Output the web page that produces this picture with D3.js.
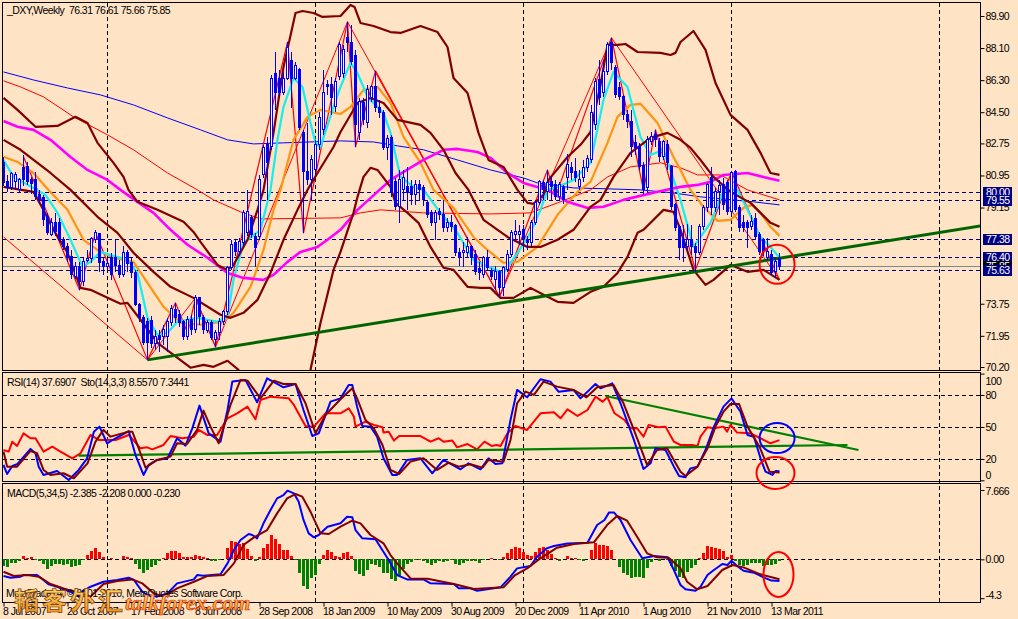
<!DOCTYPE html>
<html>
<head>
<meta charset="utf-8">
<script src="https://d3js.org/d3.v7.min.js"></script>
<style>
  html, body { margin: 0; padding: 0; background: #fee3c5; }
  svg { display: block; }
  text { font-family: "Liberation Sans", sans-serif; font-size: 10.5px; letter-spacing: -0.55px; fill: #000; }
  .tick line { stroke: #000; }
</style>
</head>
<body>
<svg id="chart" width="1018" height="619"></svg>
<script>
// weekly candles, one entry per week starting 8 Jul 2007
const opens = [81.66,80.59,80.25,80.59,80.14,81.38,81.43,80.70,80.70,79.86,
  79.69,78.63,77.62,78.29,78.29,77.34,76.94,76.38,75.26,75.82,
  74.98,76.16,76.27,77.34,77.67,76.10,75.82,76.33,76.33,75.88,
  75.37,76.61,76.05,75.48,73.69,72.96,72.74,72.79,71.50,71.95,
  71.89,71.89,72.68,73.41,73.13,72.74,71.89,72.85,72.29,74.08,
  72.96,72.23,72.68,71.73,72.12,72.74,73.30,75.77,77.17,76.66,
  77.17,77.73,78.57,77.50,77.50,80.98,82.67,82.55,86.70,86.42,
  85.58,86.42,87.43,86.42,86.87,83.34,81.15,80.70,81.26,82.67,
  83.51,86.03,86.03,84.80,86.48,86.70,88.67,88.44,87.71,83.34,
  85.02,83.90,85.30,85.92,84.74,84.46,82.50,83.06,80.59,79.19,
  80.14,80.31,80.31,79.86,80.42,80.25,79.41,78.85,78.29,78.91,
  78.74,78.01,78.29,78.12,76.61,76.61,76.61,76.94,76.49,75.71,
  75.37,76.33,75.60,75.09,75.54,74.64,75.65,76.49,77.62,77.62,
  77.90,77.34,77.17,78.29,79.41,80.53,80.03,80.59,80.42,79.75,
  80.25,80.81,81.38,81.15,80.31,80.81,81.38,81.82,83.79,86.31,
  85.58,86.76,88.39,86.99,85.86,85.36,84.35,83.96,82.78,82.55,
  81.49,80.25,82.83,83.23,82.83,81.99,82.67,81.43,79.30,78.07,
  77.34,76.94,77.34,76.94,76.61,78.07,79.13,80.81,79.13,80.03,
  80.42,80.53,78.91,81.15,79.13,78.29,78.29,78.07,78.51,77.62,
  77.34,76.33,76.49,75.54,76.31];
const highs = [81.99,80.98,81.15,81.15,80.81,82.10,81.71,80.87,81.15,80.14,
  79.86,78.85,78.57,78.85,78.57,77.50,77.17,76.77,76.10,76.10,
  76.33,76.77,77.50,77.90,77.73,76.33,76.33,76.61,77.34,76.21,
  77.00,76.77,76.33,75.65,73.80,73.13,72.96,73.07,72.29,72.29,
  72.57,72.96,73.69,73.80,73.41,72.85,73.07,73.13,74.25,74.14,
  73.13,72.85,72.85,72.29,72.96,73.41,75.88,77.34,77.34,77.45,
  79.02,80.14,78.74,77.73,80.98,82.67,83.11,86.59,87.88,86.87,
  86.76,88.44,87.88,87.32,86.99,83.51,83.90,82.10,82.95,84.52,
  86.87,86.31,86.48,86.42,88.44,88.28,89.57,89.40,88.00,85.30,
  85.30,86.03,86.03,86.82,85.19,84.63,83.23,83.23,80.81,81.26,
  81.26,81.43,80.70,80.70,80.70,80.42,79.58,79.02,79.02,79.13,
  79.58,78.57,78.74,78.23,76.89,77.22,77.50,77.06,76.77,76.10,
  76.44,76.77,75.77,75.88,75.65,75.88,76.77,77.90,78.46,78.18,
  78.18,77.56,78.46,79.58,80.70,80.70,81.26,80.93,80.70,80.59,
  80.42,82.16,81.71,81.94,81.26,81.82,82.10,84.91,86.42,87.43,
  87.43,88.44,88.67,87.15,86.20,85.47,84.63,84.63,83.23,82.78,
  81.71,83.17,83.39,83.51,83.06,82.95,82.95,81.54,79.41,78.18,
  78.18,78.23,78.18,77.17,78.23,79.30,80.53,81.43,80.25,80.70,
  80.81,80.70,81.21,81.26,79.30,78.74,78.46,78.74,78.85,77.78,
  77.45,77.45,76.77,76.33,76.61];
const lows = [80.37,80.03,80.14,80.14,80.03,80.37,80.42,79.92,79.58,79.36,
  78.12,77.62,77.56,77.56,77.22,76.77,76.10,75.15,75.15,74.53,
  74.75,76.10,76.05,77.17,75.54,75.37,75.65,75.09,75.54,75.20,
  75.26,75.54,75.20,73.63,72.74,71.45,70.60,71.28,71.17,71.05,
  71.45,71.05,72.51,72.68,72.46,71.73,71.73,72.01,72.12,72.57,
  72.06,72.12,71.73,71.33,71.73,72.57,73.13,75.65,76.44,76.44,
  77.00,77.56,77.45,75.82,77.34,80.81,79.58,82.39,84.63,85.41,
  85.47,86.31,84.74,86.31,83.51,77.73,80.42,79.58,80.98,82.39,
  83.23,85.47,84.35,84.52,86.31,86.42,87.88,87.15,82.55,82.95,
  83.79,83.62,85.08,84.52,84.18,82.39,81.82,79.75,79.02,78.29,
  79.58,79.02,79.30,79.30,79.58,79.24,78.57,78.12,77.34,78.46,
  77.78,77.78,77.78,76.44,75.88,75.82,76.33,75.93,75.37,75.09,
  75.20,75.65,75.09,74.53,74.14,74.19,75.54,76.38,77.34,77.06,
  76.77,76.77,77.00,78.18,79.30,79.58,79.58,79.58,79.58,79.58,
  79.36,80.14,80.70,80.59,80.14,80.59,81.15,81.66,83.51,84.91,
  85.36,86.59,86.87,85.30,85.19,84.07,83.62,81.99,82.10,81.26,
  79.86,80.03,82.67,82.55,81.71,81.82,81.26,79.02,77.84,76.21,
  76.10,76.77,76.49,75.54,76.49,77.90,78.91,78.74,78.91,78.74,
  79.02,78.74,78.74,78.91,77.78,77.78,76.89,77.90,77.34,76.49,
  76.44,76.21,75.37,75.20,75.66];
const closes = [80.53,80.25,81.04,80.98,80.70,80.70,80.59,80.48,79.75,79.58,
  78.46,77.73,78.29,77.78,77.34,76.94,76.33,75.37,75.82,74.98,
  76.10,76.27,77.39,77.73,76.05,75.82,75.99,75.37,75.88,75.37,
  76.61,75.99,75.48,73.69,72.96,71.56,71.56,71.50,71.89,71.73,
  72.29,72.74,73.47,72.96,72.68,71.89,72.85,72.29,74.08,73.02,
  72.29,72.68,71.84,72.12,72.74,73.30,75.77,77.06,76.66,77.22,
  78.85,78.91,77.62,76.89,80.70,82.50,81.66,86.37,85.58,85.58,
  86.42,88.16,86.42,87.10,83.62,81.15,80.70,81.82,82.67,84.18,
  85.58,85.92,85.30,86.20,88.28,88.00,88.44,87.32,83.79,85.08,
  84.07,85.75,85.92,84.74,84.46,82.50,83.00,79.97,79.19,80.70,
  80.81,79.97,79.86,80.42,80.14,79.58,78.74,78.29,78.85,78.74,
  78.01,78.29,78.07,76.61,76.38,76.72,76.94,76.33,75.54,75.48,
  76.33,75.77,75.26,75.54,74.64,75.77,76.49,77.73,77.78,77.78,
  77.39,77.17,78.29,79.41,80.59,80.14,80.53,80.31,79.75,80.42,
  79.58,81.54,81.09,80.81,80.70,81.38,81.88,84.46,86.20,85.30,
  86.76,88.28,87.27,85.47,85.36,84.35,83.96,82.55,82.50,81.43,
  80.14,82.95,83.11,82.95,81.99,82.83,81.66,79.19,78.01,76.89,
  76.89,77.34,76.94,76.61,78.07,79.13,80.42,79.13,80.03,80.37,
  79.30,78.91,81.09,79.02,78.01,78.01,78.01,78.35,77.50,76.66,
  76.66,76.66,75.48,76.10,75.85];

// indicator lines as [week, value]
const slowBlue = [[0,86.76],[7.5,86.31],[16,85.86],[24.25,85.47],[32.5,84.91],[41,84.18],[49.25,83.51],[56,82.95],[62.5,82.72],[70,82.78],[84.25,82.89],[92.5,82.83],[98.5,82.61],[105,82.39],[113.5,81.82],[121.75,81.26],[130,80.81],[133.5,80.53],[142.5,80.25],[151,80.20],[159.25,80.14],[167.5,79.97],[174.25,79.75],[187.5,79.47],[194,79.30]];
const slowRed = [[0,86.26],[4.25,85.92],[10,85.36],[17.5,84.24],[26,83.23],[32.5,82.39],[41,81.09],[48.5,80.14],[52.5,79.58],[59.25,78.91],[64.25,78.51],[84.25,78.57],[89.25,78.85],[94.25,79.02],[105,78.85],[121.75,78.79],[131.75,78.85],[138.5,79.41],[146.75,80.14],[151,80.87],[156.75,81.43],[164.25,81.66],[169.25,81.38],[173.5,80.98],[179.25,80.98],[186,80.14],[194,79.58]];
const magentaMa = [[0,84.01],[3.5,83.68],[7.5,83.51],[11.75,82.95],[16.75,81.99],[21,81.26],[26,80.70],[29.25,80.14],[33.5,79.47],[37.5,78.85],[41.75,77.90],[46,77.06],[51,76.33],[56,75.48],[60,75.20],[65,75.09],[67.5,75.37],[71,76.10],[74.25,76.66],[78.5,76.94],[81,77.34],[84.25,77.90],[88.5,79.02],[91.25,79.58],[96.75,80.70],[105,81.82],[110,82.39],[113.5,82.44],[118.5,82.27],[121.75,81.94],[126,81.09],[130,80.53],[136,80.14],[141,79.47],[146,79.13],[150,79.19],[155,79.58],[163.5,80.03],[169.25,80.31],[173.5,80.42],[176.75,80.59],[180,80.98],[186,81.09],[191,80.81],[194,80.65]];
const orangeMa = [[0,82.00],[3.5,81.71],[7.5,81.09],[11.25,80.14],[16,79.02],[20,77.34],[23.5,76.77],[27.5,76.33],[32.5,76.10],[36,74.92],[40,73.58],[44.25,72.68],[49.25,72.57],[55,72.74],[57.5,73.24],[61.75,74.70],[65,76.77],[67.5,79.02],[69.25,80.14],[72.5,82.95],[76,84.24],[79.25,84.63],[84.25,84.40],[86.75,84.80],[90,85.75],[93.5,85.92],[96.75,85.02],[100,83.11],[104.25,81.66],[107.5,80.14],[112.5,79.13],[117.5,77.50],[121,76.77],[125,76.05],[128.5,76.10],[133.5,76.94],[138.5,78.74],[143.5,80.03],[146.75,80.59],[151,82.78],[153.5,84.24],[156.75,84.91],[159.25,84.97],[163.5,83.90],[167.5,81.99],[169.25,81.26],[171.75,80.14],[175,79.19],[178.5,78.40],[181.75,78.46],[185,79.13],[187.25,79.30],[189.25,78.85],[191.75,78.07],[194,77.56]];
const cyanMa = [[0,81.82],[2.5,80.87],[10.5,79.86],[13.5,78.85],[16.75,77.34],[19.75,75.82],[21.75,76.10],[24.25,76.66],[26.75,76.49],[31,76.21],[33.5,75.48],[36,72.96],[38.5,72.01],[41,72.12],[43.5,72.74],[48.5,72.96],[53.5,72.74],[56,73.02],[57.5,75.09],[60,77.17],[64.25,77.90],[66.75,80.14],[68.5,82.95],[70,84.80],[72.5,86.42],[74.75,85.92],[76.75,83.90],[78,82.78],[79.25,82.55],[82.5,84.80],[84.25,85.92],[86.75,87.27],[88.5,86.70],[91,85.36],[92.5,85.02],[95,84.46],[96.75,83.34],[99.25,80.87],[102.5,80.31],[105,80.14],[109.25,78.85],[113.5,77.73],[117.5,76.21],[121.75,75.77],[125,75.48],[128.5,76.61],[131.75,77.73],[134.25,79.02],[136,80.14],[138.5,80.31],[142.5,80.70],[146.75,81.66],[150,85.19],[152.5,86.76],[156,85.92],[159.25,83.11],[161.75,82.10],[165,82.39],[169.25,79.58],[172.5,76.94],[176.75,78.29],[180,80.08],[183.5,80.14],[186,79.02],[189.25,77.50],[191.75,76.94],[194,76.33]];
const upperBand = [[0,85.30],[3.5,84.63],[8,83.68],[13.5,83.73],[18,84.24],[21,83.90],[23.5,82.78],[27.5,81.66],[30,80.87],[31.25,80.14],[33.5,79.47],[38.5,79.02],[45,78.35],[47.5,77.78],[49.25,77.22],[53.5,75.93],[56,75.65],[57.5,75.93],[61,77.34],[63.5,79.02],[65,80.14],[67.5,83.34],[70,87.04],[73,90.07],[74.75,90.18],[77.5,90.07],[79.75,89.85],[84.25,89.90],[86.75,90.52],[87.75,90.41],[89.25,89.51],[92.5,89.34],[96.75,89.00],[99.25,88.95],[104.25,89.34],[108.5,89.00],[111,88.16],[112.5,86.42],[116,85.58],[118.75,83.34],[121.25,81.82],[125,81.43],[128.5,80.14],[131,79.41],[132.5,79.36],[135,79.86],[136.25,80.70],[141,81.99],[144.25,82.67],[146.75,83.39],[149.25,86.03],[151,88.28],[153.5,88.28],[155.5,88.33],[158.5,87.88],[164.25,87.83],[166.75,87.71],[168,87.83],[169.25,88.44],[172.5,89.06],[175.5,88.00],[178,86.14],[181.75,84.35],[186,83.51],[189.25,82.22],[191.75,81.09],[194,80.98]];
const midBand = [[0,82.95],[4.25,82.39],[11.75,81.09],[16.75,80.14],[23.5,78.63],[28.5,77.73],[32.5,76.61],[37.5,75.54],[41.75,74.70],[47.5,74.08],[54.25,73.13],[56.75,72.96],[60,73.24],[63.5,73.97],[66.75,75.48],[70,77.34],[73.5,79.02],[76,80.14],[78.5,81.09],[82.5,82.55],[84.25,83.39],[88.5,85.02],[91.75,85.30],[95,85.02],[98.5,84.07],[104.25,83.79],[106.75,83.34],[110,82.39],[113,81.09],[116.25,80.14],[120,78.46],[126,77.50],[131,76.94],[134.25,76.94],[138.5,77.34],[142.5,77.90],[146.75,79.19],[149.25,79.58],[152.5,80.87],[156.75,82.22],[161.75,83.06],[166,83.34],[169.25,82.95],[171.75,82.50],[174.25,81.82],[177.5,80.87],[181.75,80.03],[186.75,79.41],[191.75,78.29],[194,78.07]];
const lowerBand = [[0,80.31],[7.5,80.03],[10,79.02],[12.5,77.90],[16,76.61],[19.25,74.64],[21.75,74.53],[26,74.08],[29.25,73.75],[31,73.80],[34.25,72.85],[38.5,71.56],[42.5,70.88],[46.75,70.16],[50,70.32],[52.5,70.21],[56,70.55],[58.75,70.04],[65,66.00],[72,67.00],[76.75,70.04],[79.25,72.68],[82.5,75.65],[84.25,76.66],[87.5,78.85],[88.5,79.75],[90,80.87],[91.75,81.38],[93.5,81.26],[96.75,80.31],[98,79.41],[101,78.85],[103.75,78.29],[106.75,76.94],[110,75.77],[112.5,75.65],[116,74.70],[119.25,74.64],[121.75,74.64],[124.25,74.08],[127.5,74.08],[131.75,74.64],[135,74.25],[138.5,73.86],[142.5,73.80],[146.75,74.42],[150,74.70],[153.5,75.48],[156,76.38],[158.5,77.73],[160,77.90],[165,79.02],[167.5,78.91],[169.25,77.90],[172.5,75.65],[175.5,74.81],[177.5,75.09],[181.75,75.93],[186,75.54],[190,75.65],[194,75.09]];
const zigzagLong = [[0,77.50],[36,70.60],[48,74.08],[53,71.33],[86,89.57],[124,74.14],[152,88.67],[194,75.09]];
const zigzagShort = [[5,82.00],[19,74.53],[23,77.73],[36,70.60],[43,73.80],[46,72.12],[48,74.08],[53,71.33],[71,88.44],[75,77.73],[86,89.57],[88,82.55],[93,86.82],[124,74.14],[136,81.26],[138,79.75],[152,88.67],[160,80.14],[163,83.51],[173,75.65],[182,81.15],[194,75.09]];
const mainTrend = [[36,70.60],[244.25,78.12]];

const stoMain = [[0,14.4],[0.9,5.9],[2.2,13.4],[3.4,15.0],[6.75,29.4],[8,25.3],[8.8,12.8],[10,5.0],[13.4,8.7],[16.3,0.3],[18.8,9.7],[20.9,20.6],[22.6,45.6],[24,50.3],[25.9,34.7],[28,39.4],[31.3,46.2],[33,23.7],[35,5.0],[36.3,14.4],[38.4,19.1],[41,20.6],[43.4,39.4],[45.5,32.5],[47.2,48.7],[49,70.0],[51.3,44.0],[54.25,36.2],[56,65.9],[57.2,92.5],[60.5,94.0],[63.4,73.1],[65.9,95.6],[70,87.2],[73,90.3],[75,65.9],[77.2,41.5],[78.8,44.0],[81.75,73.7],[84.25,76.8],[86.3,89.3],[87.2,89.3],[88.4,69.0],[89.7,50.9],[91.75,50.3],[93.4,40.9],[95,20.6],[97.2,5.0],[98.4,5.0],[100.9,19.1],[104.25,20.6],[107.2,6.6],[110,19.1],[114.25,10.3],[116.25,15.9],[119.25,10.3],[121.25,20.6],[123,15.3],[124.7,15.9],[126.75,56.5],[128.4,84.7],[130.9,77.8],[134.25,94.7],[136.75,92.5],[138.75,83.1],[142.5,84.7],[144.25,76.8],[148,90.3],[149.25,86.2],[152.2,90.9],[154.25,72.2],[157.6,37.8],[160,10.6],[161.75,15.9],[163,30.0],[165.5,28.4],[167.6,12.8],[168.9,4.0],[170.5,2.8],[171.75,11.2],[173.5,12.8],[175.5,28.4],[177.6,50.3],[180,69.0],[182,76.8],[184.25,64.3],[186,42.5],[187.6,40.9],[189.25,20.6],[190.5,8.1],[192.25,5.0],[193,8.7],[194,8.557]];
const stoSignal = [[0,26.9],[0.9,12.8],[3.4,12.8],[6.75,27.5],[8.4,25.3],[10,9.7],[11.75,5.0],[15,6.6],[17.6,1.9],[21,15.9],[23,36.2],[25,47.2],[26.75,40.9],[31.3,45.6],[32.2,45.6],[33.8,30.0],[35.5,11.9],[38.4,19.1],[41.75,22.2],[43.4,34.7],[45.9,34.0],[48.4,47.2],[50,65.3],[51.75,50.3],[53.8,34.7],[56.75,70.6],[59.25,94.0],[61,93.4],[64.25,76.8],[67.6,93.4],[70,90.3],[73,90.3],[75.5,72.2],[78,44.0],[80.5,61.2],[84.25,75.9],[87.2,86.2],[88.4,76.8],[90.5,56.5],[92.6,48.7],[94.75,33.1],[96.75,9.7],[98.9,5.9],[101.75,17.5],[105,20.6],[108.4,9.7],[111.3,16.6],[113.8,12.8],[116.75,15.0],[119.75,11.9],[121.25,19.1],[125,17.5],[126.75,37.8],[128.4,72.2],[130.5,83.1],[132.6,80.0],[135,92.5],[138.4,87.8],[142.5,84.7],[145.75,77.8],[148.4,87.2],[152.5,89.3],[155,72.2],[157.6,47.2],[160.9,14.4],[163.4,28.4],[165.9,30.0],[169.25,8.1],[170.5,4.1],[173.5,12.8],[176,30.0],[178,50.3],[180,64.3],[181.75,71.5],[183.9,71.5],[186,50.3],[189,31.5],[191.5,8.1],[194,7.344]];
const rsiLine = [[0,28.4],[1.3,26.9],[2.2,36.2],[3.4,32.2],[5,44.0],[6.75,39.4],[8,39.4],[10,26.9],[12.2,31.5],[14.25,26.9],[17.2,20.6],[19.25,25.3],[21.75,42.5],[23.8,37.8],[28,37.8],[31.3,42.5],[34.25,30.0],[35.9,30.9],[37.2,29.0],[40,33.1],[41.75,41.5],[44.7,39.4],[47.6,40.9],[48.8,47.2],[50.9,42.5],[53.4,42.5],[56,58.1],[58.4,62.8],[61,69.0],[63,57.2],[64.25,75.3],[66.75,78.4],[71.3,76.8],[72.6,70.6],[75.5,50.9],[77.6,50.3],[80.5,62.8],[84.25,62.8],[86.3,67.5],[87.6,59.7],[88,50.3],[90.5,55.0],[92.6,51.9],[94.75,49.7],[95,44.7],[96.3,45.6],[97.6,37.2],[98.9,41.5],[104.25,41.5],[106.75,36.2],[108.8,39.4],[110,36.2],[112.2,37.2],[113.4,30.9],[116,34.0],[118.4,29.0],[120.25,36.2],[122,32.2],[123.25,33.1],[124.25,32.2],[126,44.0],[128,50.9],[130.9,47.2],[134.25,62.8],[137.6,63.7],[139.25,58.1],[141,66.5],[143.5,60.3],[146,65.9],[148,78.4],[149.75,73.7],[151,77.8],[152.75,62.8],[155.25,56.5],[156.75,48.7],[158.4,48.7],[160,40.9],[161.3,51.9],[163.75,49.7],[165.5,50.3],[167.6,36.2],[169.25,33.1],[172.2,33.1],[173.5,32.2],[174.25,40.9],[176,49.7],[177.6,48.7],[180,50.3],[180.9,45.6],[181.75,51.9],[183.4,44.7],[186.75,44.0],[189.25,39.4],[191.75,34.7],[194,37.69]];
const rsiSupport = [[18.75,23.1],[211,33.1]];
const rsiResistance = [[150.5,79.0],[213.75,28.4]];

const macdHist = [-.74,-.81,-.44,-.44,-.15,.33,.18,.22,-.04,-.22,
  -.52,-1.03,-.74,-.52,-.52,-.59,-.52,-.81,-.74,-.59,
  -.07,.48,.96,1.25,.81,.30,0,.11,.07,0,
  .33,.22,.11,-.55,-1.03,-1.48,-1.18,-.89,-.66,-.15,
  .11,.66,.96,.96,.66,.26,.22,.30,.52,.33,
  .26,.11,-.15,-.22,-.07,.07,1.29,2.03,1.92,1.66,
  1.77,1.11,.37,-.15,.30,1.29,1.66,2.69,2.21,1.66,
  1.03,1.03,.37,-.11,-1.55,-2.95,-3.32,-2.03,-1.77,-.52,
  .44,1.0,.81,.37,.30,.74,.81,.37,-1.29,-1.66,
  -1.85,-1.18,-.52,-.59,-.81,-1.48,-1.48,-2.21,-2.40,-1.85,
  -1.11,-.52,-.30,-.11,-.04,-.18,-.37,-.63,-.44,-.22,
  -.30,-.22,-.11,-.55,-.59,-.37,-.15,-.18,-.18,-.41,
  -.04,.07,.15,.07,-.04,.26,.74,1.18,1.33,1.22,
  .81,.44,.37,.81,1.25,1.33,1.03,.59,.15,-.15,
  .04,.37,.18,.11,-.07,-.15,.04,1.03,1.77,1.55,
  1.55,1.48,1.0,.07,-.89,-1.48,-1.70,-2.03,-1.96,-1.92,
  -2.03,-.92,-.30,.07,-.15,.04,-.11,-.74,-1.29,-1.92,
  -2.03,-1.40,-.92,-.66,.18,.66,1.48,1.33,1.29,1.11,
  .92,.30,.44,-.15,-.66,-.74,-.59,-.44,-.37,-.41,
  -.70,-.59,-.66,-.52,-.23];
const macdMain = [[0,-1.85],[1.75,-2.03],[4.25,-1.92],[5,-1.74],[8.4,-1.74],[10,-2.29],[11.3,-2.77],[13.4,-3.03],[16.75,-3.58],[18.8,-4.13],[19.7,-3.58],[21.75,-3.03],[25,-2.48],[28.4,-2.29],[31.3,-2.03],[32.6,-2.29],[34.7,-3.58],[36,-3.95],[38.4,-4.13],[41,-3.77],[43.4,-2.66],[47.6,-2.22],[48.4,-1.74],[50,-1.81],[54.25,-1.66],[56,-0.45],[57.6,1.03],[59.25,2.13],[61.3,2.80],[62.2,2.69],[63.4,2.32],[65,3.98],[66.75,5.45],[68.4,6.74],[70,7.11],[71,7.59],[72.6,7.30],[73.8,6.37],[75,4.35],[76.3,2.87],[77.6,2.43],[78.8,2.69],[81,3.61],[84.25,3.98],[85.9,4.71],[87.2,4.64],[88,3.24],[89.7,2.32],[93,2.21],[94.7,1.03],[96.3,-0.08],[98.4,-1.74],[100.9,-2.22],[105,-2.22],[106.75,-2.66],[112.6,-2.73],[113.8,-3.21],[116.75,-3.21],[118.4,-3.47],[124.25,-3.10],[126.75,-1.92],[128.4,-1.00],[131.75,-0.74],[133.4,0.29],[135.75,1.21],[137.6,1.47],[141,1.76],[146,1.84],[148.4,3.79],[150.25,4.35],[151.4,5.19],[152.6,5.19],[154.25,4.35],[156.75,2.13],[159.7,0.11],[162.6,0.36],[166,0.22],[167.6,-1.18],[169.25,-2.84],[170.5,-3.32],[173,-3.47],[174.25,-3.03],[176,-1.74],[177.6,-1.18],[179.7,-0.52],[181,-0.63],[182,-0.15],[183.4,-0.74],[185,-1.26],[187.6,-1.48],[190,-1.99],[192,-2.35],[194,-2.385]];
const macdSignal = [[0,-1.37],[2.6,-1.85],[6,-1.74],[8.8,-1.92],[11.75,-2.73],[15,-3.21],[19.25,-3.77],[21.75,-4.13],[23,-3.58],[25,-2.73],[28.4,-2.40],[32.2,-2.22],[34.7,-2.66],[37.6,-3.77],[40,-4.13],[43.4,-3.21],[47.6,-2.48],[50.9,-1.85],[55,-1.74],[57.6,-0.45],[60,1.58],[62.6,2.43],[65.9,3.24],[68.4,5.08],[70.9,6.74],[73,7.22],[74.7,6.93],[76.75,5.27],[79.25,2.87],[81.3,2.80],[84.25,3.61],[87.2,4.27],[89.25,3.98],[91.75,2.69],[95,1.77],[96.75,0.47],[98.4,-0.45],[101.75,-2.11],[106,-2.14],[112.6,-2.73],[117.6,-3.29],[125,-3.10],[127.9,-1.74],[130.9,-1.00],[134.25,0.11],[138.4,1.29],[142.6,1.69],[147.6,1.88],[150.9,3.79],[153.4,4.79],[155.9,4.27],[158.4,2.50],[160.9,0.66],[163.4,0.22],[166.3,0.18],[169.25,-1.00],[170.9,-2.48],[173.4,-3.32],[176,-2.95],[179.7,-1.18],[182.25,-0.63],[185,-0.89],[189.25,-1.66],[194,-2.208]];

// axis labels
const priceTicks = [89.90, 88.10, 86.30, 84.50, 82.75, 80.95, 79.15, 73.75, 71.95, 70.20];
const rsiTicks = [100, 80, 50, 20, 0];
const macdTicks = [7.666, 0, -4.3];
const dateWeeks = d3.range(0, 193, 16);
const dateLabels = ["8 Jul 2007", "28 Oct 2007", "17 Feb 2008", "8 Jun 2008", "28 Sep 2008", "18 Jan 2009",
  "10 May 2009", "30 Aug 2009", "20 Dec 2009", "11 Apr 2010", "1 Aug 2010", "21 Nov 2010", "13 Mar 2011"];
const yearWeeks = [26, 78, 130, 182, 234];
const priceLevels = [77.38, 76.40, 75.85, 75.63, 80.00, 79.55];
const bidPrice = 75.85;

const svg = d3.select("#chart");

const x = d3.scaleLinear().domain([0, 244.25]).range([3.5, 980.5]);
const yPrice = d3.scaleLinear().domain([70.2, 89.9]).range([367, 16]);
const yRsi = d3.scaleLinear().domain([0, 100]).range([480.3, 373.6]);
const yMacd = d3.scaleLinear().domain([-4.3, 7.666]).range([598.2, 490]);

const panes = [
  { id: "p1", top: 3, bottom: 370 },
  { id: "p2", top: 373, bottom: 481 },
  { id: "p3", top: 484, bottom: 602 },
];

const defs = svg.append("defs");
panes.forEach((p) => {
  defs.append("clipPath").attr("id", p.id)
    .append("rect").attr("x", 3).attr("y", p.top).attr("width", 977).attr("height", p.bottom - p.top);
});
const gold = defs.append("linearGradient").attr("id", "gold").attr("x1", 0).attr("x2", 0).attr("y1", 0).attr("y2", 1);
gold.append("stop").attr("offset", "0%").attr("stop-color", "#ffe878");
gold.append("stop").attr("offset", "100%").attr("stop-color", "#f08a10");

svg.append("rect").attr("width", 1018).attr("height", 619).attr("fill", "#fee3c5");

// year grid runs through all three panes
svg.append("g").selectAll("line").data(yearWeeks).join("line")
  .attr("x1", (d) => x(d)).attr("x2", (d) => x(d))
  .attr("y1", 3).attr("y2", 602)
  .attr("stroke", "#000").attr("stroke-dasharray", "4 3");

const main = svg.append("g").attr("clip-path", "url(#p1)");
const rsiPane = svg.append("g").attr("clip-path", "url(#p2)");
const macdPane = svg.append("g").attr("clip-path", "url(#p3)");

function drawLine(group, scaleY, pts, color, width) {
  const line = d3.line().x((d) => x(d[0])).y((d) => scaleY(d[1]));
  group.append("path").attr("d", line(pts))
    .attr("fill", "none").attr("stroke", color).attr("stroke-width", width)
    .attr("stroke-linejoin", "round");
}

// price pane levels
main.append("g").selectAll("line").data(priceLevels.filter((d) => d !== bidPrice)).join("line")
  .attr("x1", 3).attr("x2", 980)
  .attr("y1", (d) => Math.round(yPrice(d)) + 0.5).attr("y2", (d) => Math.round(yPrice(d)) + 0.5)
  .attr("stroke", "#000080").attr("stroke-dasharray", "4 3");
main.append("line").attr("x1", 3).attr("x2", 980)
  .attr("y1", Math.round(yPrice(bidPrice)) + 0.5).attr("y2", Math.round(yPrice(bidPrice)) + 0.5)
  .attr("stroke", "#778899");

// overlays sit behind the candles
drawLine(main, yPrice, slowBlue, "#0000ff", 1);
drawLine(main, yPrice, slowRed, "#ff0000", 1);
drawLine(main, yPrice, zigzagLong, "#ff0000", 1);
drawLine(main, yPrice, zigzagShort, "#ff0000", 1.2);
drawLine(main, yPrice, orangeMa, "#ff9410", 2.2);
drawLine(main, yPrice, cyanMa, "#10f0f0", 2.2);
drawLine(main, yPrice, magentaMa, "#ff00ff", 2.6);
drawLine(main, yPrice, upperBand, "#800000", 2.2);
drawLine(main, yPrice, midBand, "#800000", 2.2);
drawLine(main, yPrice, lowerBand, "#800000", 2.2);
drawLine(main, yPrice, mainTrend, "#006400", 3);

// candles
const weeks = d3.range(opens.length);
const candles = main.append("g").attr("shape-rendering", "crispEdges");
candles.selectAll(".wick").data(weeks).join("line").attr("class", "wick")
  .attr("x1", (d) => x(d)).attr("x2", (d) => x(d))
  .attr("y1", (d) => yPrice(highs[d])).attr("y2", (d) => yPrice(lows[d]))
  .attr("stroke", "#0000ff");
candles.selectAll(".body").data(weeks).join("rect").attr("class", "body")
  .attr("x", (d) => x(d) - 1).attr("width", 2)
  .attr("y", (d) => yPrice(Math.max(opens[d], closes[d])))
  .attr("height", (d) => Math.max(1, Math.abs(yPrice(opens[d]) - yPrice(closes[d]))))
  .attr("fill", (d) => (closes[d] > opens[d] ? "#fff" : "#0000ff"))
  .attr("stroke", "#0000ff");

// RSI and stochastic pane
rsiPane.append("g").selectAll("line").data([80, 50, 20]).join("line")
  .attr("x1", 3).attr("x2", 980)
  .attr("y1", (d) => Math.round(yRsi(d)) + 0.5).attr("y2", (d) => Math.round(yRsi(d)) + 0.5)
  .attr("stroke", "#000").attr("stroke-dasharray", "4 3");
drawLine(rsiPane, yRsi, rsiLine, "#ff0000", 2);
drawLine(rsiPane, yRsi, rsiSupport, "#008000", 2.2);
drawLine(rsiPane, yRsi, rsiResistance, "#008000", 2.2);
drawLine(rsiPane, yRsi, stoMain, "#0000ff", 2);
drawLine(rsiPane, yRsi, stoSignal, "#800000", 2);

// MACD pane
macdPane.append("line").attr("x1", 3).attr("x2", 980)
  .attr("y1", Math.round(yMacd(0)) + 0.5).attr("y2", Math.round(yMacd(0)) + 0.5)
  .attr("stroke", "#000").attr("stroke-dasharray", "4 3");
macdPane.append("g").attr("shape-rendering", "crispEdges")
  .selectAll("rect").data(macdHist).join("rect")
  .attr("x", (d, i) => x(i) - 1.5).attr("width", 3)
  .attr("y", (d) => yMacd(Math.max(d, 0)))
  .attr("height", (d) => Math.abs(yMacd(d) - yMacd(0)))
  .attr("fill", (d) => (d >= 0 ? "#ff0000" : "#008000"));
drawLine(macdPane, yMacd, macdMain, "#0000ff", 2);
drawLine(macdPane, yMacd, macdSignal, "#800000", 2);

// pane borders
const borders = svg.append("g").attr("shape-rendering", "crispEdges");
panes.forEach((p) => {
  borders.append("rect").attr("x", 2.5).attr("y", p.top - 0.5)
    .attr("width", 978).attr("height", p.bottom - p.top + 0.5)
    .attr("fill", "none").attr("stroke", "#000");
});

// axes
const axPrice = svg.append("g").attr("transform", "translate(980.5,0)")
  .call(d3.axisRight(yPrice).tickValues(priceTicks).tickSize(4).tickPadding(1).tickFormat(d3.format(".2f")));
const axRsi = svg.append("g").attr("transform", "translate(980.5,0)")
  .call(d3.axisRight(yRsi).tickValues(rsiTicks).tickSize(4).tickPadding(1));
const axMacd = svg.append("g").attr("transform", "translate(980.5,0)")
  .call(d3.axisRight(yMacd).tickValues(macdTicks).tickSize(4).tickPadding(1)
    .tickFormat((d) => (d === 0 ? "0.00" : String(d))));
const axDate = svg.append("g").attr("transform", "translate(0,602.5)")
  .call(d3.axisBottom(x).tickValues(dateWeeks).tickSize(4).tickPadding(1)
    .tickFormat((d, i) => dateLabels[i]));
[axPrice, axRsi, axMacd, axDate].forEach((a) => {
  a.select(".domain").remove();
  a.attr("font-family", null).attr("font-size", null);
});
axDate.selectAll("text").attr("text-anchor", "start").attr("dx", -1);
// labels next to the pane edge are pushed inward
axRsi.selectAll("text").filter((d) => d === 100).attr("dy", "1.0em");
axRsi.selectAll("text").filter((d) => d === 0).attr("dy", "-0.2em");
axMacd.selectAll("text").filter((d) => d === -4.3).attr("dy", "0.05em");
axMacd.selectAll("text").filter((d) => d === 7.666).attr("dy", "0.45em");

// current value boxes
const boxes = svg.append("g").selectAll("g").data(priceLevels).join("g")
  .attr("transform", (d) => `translate(983,${Math.round(yPrice(d)) - 5})`);
boxes.append("rect").attr("width", 29).attr("height", 11)
  .attr("fill", (d) => (d === bidPrice ? "#000" : "#000080"));
boxes.append("text").attr("x", 3).attr("y", 9).text((d) => d.toFixed(2))
  .style("fill", "#fff");

// pane captions
svg.append("text").attr("x", 7).attr("y", 14).text("_DXY,Weekly  76.31 76.61 75.66 75.85").attr("xml:space", "preserve");
svg.append("text").attr("x", 7).attr("y", 386).text("RSI(14) 37.6907  Sto(14,3,3) 8.5570 7.3441").attr("xml:space", "preserve");
svg.append("text").attr("x", 7).attr("y", 497).text("MACD(5,34,5) -2.385 -2.208 0.000 -0.230");
svg.append("text").attr("x", 6).attr("y", 597).text("MetaTrader 4, © 2001-2010, MetaQuotes Software Corp.");

// hand drawn rings, placed in data units
const rings = [
  { sx: x, sy: yPrice, w: 193.4, v: 75.96, rx: 17.5, ry: 19.5, c: "#ff0000" },
  { sx: x, sy: yRsi, w: 193.4, v: 39.6, rx: 17.5, ry: 15, c: "#0000ff" },
  { sx: x, sy: yRsi, w: 193, v: 6.8, rx: 19, ry: 16, c: "#ff0000" },
  { sx: x, sy: yMacd, w: 193.75, v: -1.68, rx: 15, ry: 22.5, c: "#ff0000" },
];
svg.append("g").selectAll("ellipse").data(rings).join("ellipse")
  .attr("cx", (d) => d.sx(d.w)).attr("cy", (d) => d.sy(d.v))
  .attr("rx", (d) => d.rx).attr("ry", (d) => d.ry)
  .attr("fill", "none").attr("stroke", (d) => d.c).attr("stroke-width", 2);

// watermark
svg.append("text").attr("x", 14).attr("y", 610).text("韬客外汇")
  .style("font-family", '"Noto Sans CJK SC"').style("font-size", "25px").style("font-weight", 700)
  .style("letter-spacing", "3px").style("fill", "url(#gold)")
  .attr("stroke", "#7a3a10").attr("stroke-width", 0.7);
svg.append("text").attr("x", 125).attr("y", 610).text("talkforex.com")
  .style("font-family", '"Liberation Serif"').style("font-size", "22px").style("font-style", "italic").style("font-weight", 700)
  .style("letter-spacing", "0px").style("fill", "url(#gold)")
  .attr("stroke", "#d03010").attr("stroke-width", 0.7);
</script>
</body>
</html>
